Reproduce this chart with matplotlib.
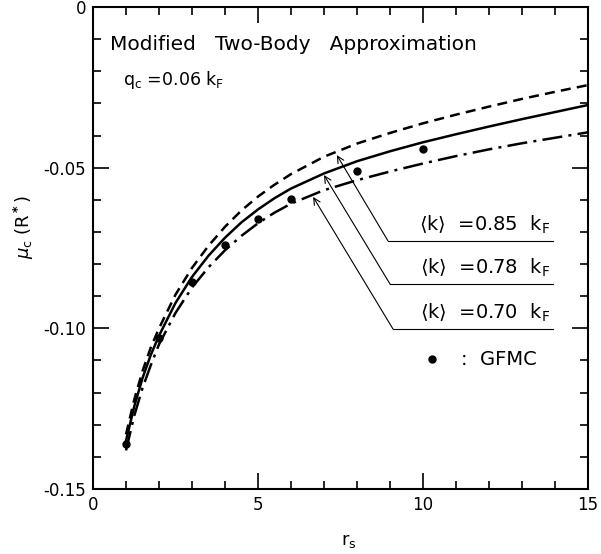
import numpy as np
import matplotlib
matplotlib.use("Agg")
import matplotlib.pyplot as plt
from matplotlib.ticker import MultipleLocator, FixedLocator, FixedFormatter

# ---- data ----
rs = [1.0, 1.25, 1.5, 1.75, 2, 2.5, 3, 3.5, 4, 4.5, 5, 5.5, 6, 7, 8, 9, 10, 11, 12, 13, 14, 15]
mu_085 = [-0.133, -0.1222, -0.1133, -0.1060, -0.1000, -0.0895, -0.0812, -0.0743, -0.0684, -0.0633,
          -0.0590, -0.0553, -0.0520, -0.0466, -0.0425, -0.0392, -0.0362, -0.0335, -0.0310, -0.0286,
          -0.0264, -0.0243]
mu_078 = [-0.135, -0.1243, -0.1155, -0.1083, -0.1023, -0.0921, -0.0840, -0.0774, -0.0718, -0.0670,
          -0.0630, -0.0595, -0.0565, -0.0518, -0.0480, -0.0449, -0.0421, -0.0396, -0.0372, -0.0349,
          -0.0327, -0.0305]
mu_070 = [-0.138, -0.1272, -0.1186, -0.1115, -0.1050, -0.0952, -0.0873, -0.0810, -0.0757, -0.0712,
          -0.0673, -0.0640, -0.0612, -0.0570, -0.0539, -0.0512, -0.0487, -0.0464, -0.0443, -0.0424,
          -0.0407, -0.0390]
gfmc_rs = [1, 2, 3, 4, 5, 6, 8, 10]
gfmc_mu = [-0.136, -0.103, -0.0856, -0.0742, -0.066, -0.0598, -0.051, -0.0442]

labels = [r"$\langle$k$\rangle$  =0.85  k$_\mathregular{F}$",
          r"$\langle$k$\rangle$  =0.78  k$_\mathregular{F}$",
          r"$\langle$k$\rangle$  =0.70  k$_\mathregular{F}$"]
ytick_vals = [0, -0.05, -0.10, -0.15]
ytick_labels = ["0", "-0.05", "-0.10", "-0.15"]
xtick_vals = [0, 5, 10, 15]
xtick_labels = ["0", "5", "10", "15"]

# ---- figure ----
fig = plt.figure(figsize=(6.01, 5.54), dpi=100)
ax = fig.add_axes([93/601, 1-489/554, (588-93)/601, (489-7)/554])

ax.plot(rs, mu_085, color="black", lw=1.8, linestyle=(0, (4, 2.5)))
ax.plot(rs, mu_078, color="black", lw=1.8, linestyle="-")
ax.plot(rs, mu_070, color="black", lw=1.8, linestyle=(0, (8, 2.5, 1.2, 2.5)))
ax.plot(gfmc_rs, gfmc_mu, "o", color="black", ms=5)

ax.set_xlim(0, 15)
ax.set_ylim(-0.15, 0)

ax.xaxis.set_major_locator(FixedLocator(xtick_vals))
ax.xaxis.set_major_formatter(FixedFormatter(xtick_labels))
ax.xaxis.set_minor_locator(MultipleLocator(1))
ax.yaxis.set_major_locator(FixedLocator(ytick_vals))
ax.yaxis.set_major_formatter(FixedFormatter(ytick_labels))
ax.yaxis.set_minor_locator(MultipleLocator(0.01))
ax.tick_params(which="both", direction="in", top=True, right=True, labelsize=12, width=1.2)
ax.tick_params(which="major", length=11.5, pad=5)
ax.tick_params(which="minor", length=6)
for s in ax.spines.values():
    s.set_linewidth(1.5)

ax.set_xlabel(r"r$_\mathregular{s}$", fontsize=13)
ax.xaxis.set_label_coords(0.517, -0.09)
ax.set_ylabel(r"$\mu_\mathregular{c}$ (R$^{\bf *}$)", fontsize=13)
ax.yaxis.set_label_coords(-0.115, 0.544)

ax.text(0.52, -0.0118, "Modified   Two-Body   Approximation", fontsize=14.5, va="center", ha="left")
ax.text(0.91, -0.0227, r"q$_\mathregular{c}$ =0.06 k$_\mathregular{F}$", fontsize=12.5, va="center", ha="left")

# annotation leaders: tip on curve (pixel-read), horizontal baseline
tips_x = [7.39, 7.0, 6.67]
tips_y = [-0.0461, -0.0523, -0.0591]
line_y = [-0.0728, -0.0862, -0.1002]
line_x0 = [8.94, 9.0, 9.09]
line_x1 = 13.94
for tx, ty, ly, lx0, lab in zip(tips_x, tips_y, line_y, line_x0, labels):
    ax.plot([lx0, line_x1], [ly, ly], color="black", lw=0.8)
    ax.annotate("", xy=(tx, ty), xytext=(lx0, ly),
                arrowprops=dict(arrowstyle="->", color="black", lw=0.8,
                                shrinkA=0, shrinkB=0, mutation_scale=12))
    ax.text(13.85, ly + 0.005, lab, fontsize=14, ha="right", va="center")

ax.plot([10.27], [-0.1096], "o", color="black", ms=5)
ax.text(11.15, -0.1096, ":  GFMC", fontsize=14, ha="left", va="center")

fig.savefig("out.png", dpi=100)
